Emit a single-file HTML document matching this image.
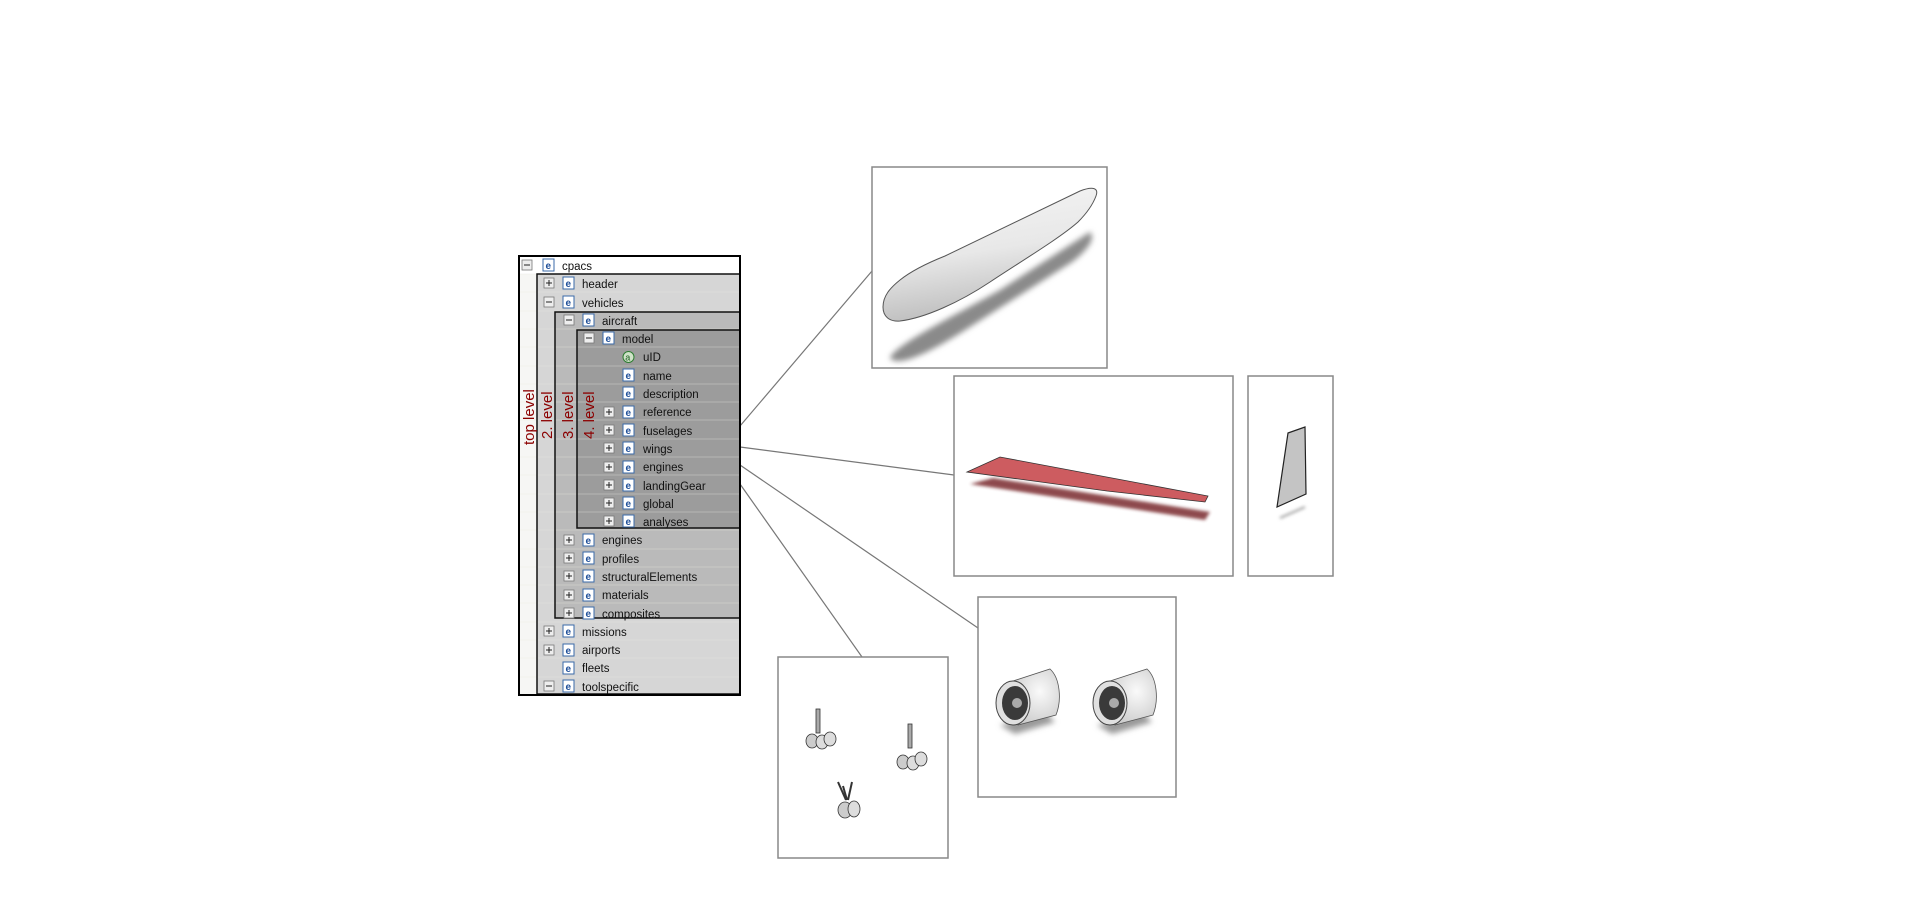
<!DOCTYPE html>
<html><head><meta charset="utf-8"><style>
html,body{margin:0;padding:0;background:#fff;}
svg{display:block;}
text{font-family:"Liberation Sans","DejaVu Sans",sans-serif;}
</style></head><body>
<svg width="1920" height="900" viewBox="0 0 1920 900" xmlns="http://www.w3.org/2000/svg">
<defs>
<linearGradient id="fus" x1="0" y1="0" x2="0.25" y2="1">
<stop offset="0" stop-color="#f6f6f6"/><stop offset="0.55" stop-color="#e8e8e8"/><stop offset="1" stop-color="#bdbdbd"/></linearGradient>
<filter id="blur" x="-20%" y="-50%" width="140%" height="200%"><feGaussianBlur stdDeviation="3"/></filter>
<filter id="blur2" x="-20%" y="-50%" width="140%" height="200%"><feGaussianBlur stdDeviation="1.5"/></filter>
<radialGradient id="eng" cx="0.6" cy="0.4" r="0.7"><stop offset="0" stop-color="#fafafa"/><stop offset="1" stop-color="#c8c8c8"/></radialGradient>
</defs>

<!-- connectors -->
<g stroke="#777" stroke-width="1.2" fill="none">
<line x1="740" y1="426" x2="872" y2="271"/>
<line x1="740" y1="447" x2="954" y2="475"/>
<line x1="740" y1="465" x2="978" y2="628"/>
<line x1="740" y1="484" x2="862" y2="657"/>
</g>

<!-- boxes -->
<g fill="#fff" stroke="#888" stroke-width="1.5">
<rect x="872" y="167" width="235" height="201"/>
<rect x="954" y="376" width="279" height="200"/>
<rect x="1248" y="376" width="85" height="200"/>
<rect x="978" y="597" width="198" height="200"/>
<rect x="778" y="657" width="170" height="201"/>
</g>

<!-- fuselage -->
<path d="M890,358 C895,345 950,318 1000,290 L1090,232 C1096,238 1088,250 1072,262 L962,332 C930,352 898,368 890,358 Z" fill="#8a8a8a" filter="url(#blur)"/>
<path d="M883,307 C883,296 890,288 900,280 C910,272 925,264 945,256 L1080,191 C1093,186 1099,188 1096,196 C1093,204 1088,212 1078,222 C1060,238 1020,262 990,282 C960,302 925,318 900,321 C889,322 883,316 883,307 Z" fill="url(#fus)" stroke="#555" stroke-width="1"/>

<!-- wing -->
<path d="M970,484 L993,478 L1210,512 L1205,520 Z" fill="#7a2a2e" opacity="0.85" filter="url(#blur2)"/>
<path d="M967,472 L1000,457 L1208,496 L1205,502 L1107,491 Z" fill="#cd5c60" stroke="#333" stroke-width="0.8"/>

<!-- fin -->
<line x1="1280" y1="518" x2="1305" y2="507" stroke="#999" stroke-width="2" filter="url(#blur2)"/>
<path d="M1277,507 L1288,433 L1305,427 L1306,494 Z" fill="#c4c4c4" stroke="#222" stroke-width="1.2"/>

<!-- engines -->
<g>
<path d="M1000,725 L1045,712 L1055,722 L1015,734 Z" fill="#999" filter="url(#blur)"/>
<path d="M1010,682 L1050,669 C1060,678 1062,700 1056,715 L1018,725 Z" fill="url(#eng)" stroke="#555" stroke-width="0.8"/>
<ellipse cx="1013" cy="703" rx="17" ry="22" fill="#e0e0e0" stroke="#444" stroke-width="1"/>
<ellipse cx="1015" cy="703" rx="13" ry="17" fill="#3a3a3a"/>
<circle cx="1017" cy="703" r="5" fill="#aaa"/>
<path d="M1097,725 L1142,712 L1152,722 L1112,734 Z" fill="#999" filter="url(#blur)"/>
<path d="M1107,682 L1147,669 C1157,678 1159,700 1153,715 L1115,725 Z" fill="url(#eng)" stroke="#555" stroke-width="0.8"/>
<ellipse cx="1110" cy="703" rx="17" ry="22" fill="#e0e0e0" stroke="#444" stroke-width="1"/>
<ellipse cx="1112" cy="703" rx="13" ry="17" fill="#3a3a3a"/>
<circle cx="1114" cy="703" r="5" fill="#aaa"/>
</g>

<!-- landing gear -->
<g stroke="#333" stroke-width="0.8">
<rect x="816" y="709" width="4" height="24" fill="#aaa"/>
<ellipse cx="812" cy="741" rx="6" ry="7" fill="#ccc"/><ellipse cx="822" cy="742" rx="6" ry="7" fill="#ddd"/><ellipse cx="830" cy="739" rx="6" ry="7" fill="#ddd"/>
<rect x="908" y="724" width="4" height="24" fill="#aaa"/>
<ellipse cx="903" cy="762" rx="6" ry="7" fill="#ccc"/><ellipse cx="913" cy="763" rx="6" ry="7" fill="#ddd"/><ellipse cx="921" cy="759" rx="6" ry="7" fill="#ddd"/>
<line x1="838" y1="782" x2="846" y2="800" stroke-width="2"/><line x1="852" y1="782" x2="848" y2="800" stroke-width="2"/><line x1="843" y1="786" x2="847" y2="800" stroke-width="2"/>
<ellipse cx="845" cy="810" rx="7" ry="8" fill="#ccc"/><ellipse cx="854" cy="809" rx="6" ry="8" fill="#ddd"/>
</g>

<!-- tree -->
<g>
<rect x="519" y="256" width="221" height="439" fill="#f6f6f4"/>
<rect x="519" y="256" width="221" height="18" fill="#fff"/>
<rect x="537" y="274" width="203" height="420" fill="#d6d6d6"/>
<rect x="555" y="312" width="185" height="306" fill="#bababa"/>
<rect x="577" y="330" width="163" height="198" fill="#9c9c9c"/>
<g stroke="#e8e8e0" stroke-width="0.6" opacity="0.7">
<line x1="519" y1="274" x2="740" y2="274"/><line x1="519" y1="292" x2="740" y2="292"/><line x1="519" y1="311" x2="740" y2="311"/><line x1="519" y1="329" x2="740" y2="329"/><line x1="519" y1="347" x2="740" y2="347"/><line x1="519" y1="366" x2="740" y2="366"/><line x1="519" y1="384" x2="740" y2="384"/><line x1="519" y1="402" x2="740" y2="402"/><line x1="519" y1="420" x2="740" y2="420"/><line x1="519" y1="439" x2="740" y2="439"/><line x1="519" y1="457" x2="740" y2="457"/><line x1="519" y1="475" x2="740" y2="475"/><line x1="519" y1="494" x2="740" y2="494"/><line x1="519" y1="512" x2="740" y2="512"/><line x1="519" y1="530" x2="740" y2="530"/><line x1="519" y1="549" x2="740" y2="549"/><line x1="519" y1="567" x2="740" y2="567"/><line x1="519" y1="585" x2="740" y2="585"/><line x1="519" y1="603" x2="740" y2="603"/><line x1="519" y1="622" x2="740" y2="622"/><line x1="519" y1="640" x2="740" y2="640"/><line x1="519" y1="658" x2="740" y2="658"/><line x1="519" y1="677" x2="740" y2="677"/>
</g>
<g fill="none" stroke="#111" stroke-width="1.5">
<rect x="537" y="274" width="203" height="420"/>
<rect x="555" y="312" width="185" height="306"/>
<rect x="577" y="330" width="163" height="198"/>
</g>
<rect x="519" y="256" width="221" height="439" fill="none" stroke="#000" stroke-width="2"/>

<!-- level labels -->
<g fill="#8b0000" font-size="15">
<text transform="translate(534,445) rotate(-90)">top level</text>
<text transform="translate(552,439) rotate(-90)">2. level</text>
<text transform="translate(573,439) rotate(-90)">3. level</text>
<text transform="translate(594,439) rotate(-90)">4. level</text>
</g>

<!-- rows -->
<g font-size="11.5" fill="#111">
<g fill="#eee" stroke="#777" stroke-width="0.8">
<rect x="522" y="260" width="10" height="10"/>
<rect x="544" y="278" width="10" height="10"/>
<rect x="544" y="297" width="10" height="10"/>
<rect x="564" y="315" width="10" height="10"/>
<rect x="584" y="333" width="10" height="10"/>
<rect x="604" y="407" width="10" height="10"/>
<rect x="604" y="425" width="10" height="10"/>
<rect x="604" y="443" width="10" height="10"/>
<rect x="604" y="462" width="10" height="10"/>
<rect x="604" y="480" width="10" height="10"/>
<rect x="604" y="498" width="10" height="10"/>
<rect x="604" y="516" width="10" height="10"/>
<rect x="564" y="535" width="10" height="10"/>
<rect x="564" y="553" width="10" height="10"/>
<rect x="564" y="571" width="10" height="10"/>
<rect x="564" y="590" width="10" height="10"/>
<rect x="564" y="608" width="10" height="10"/>
<rect x="544" y="626" width="10" height="10"/>
<rect x="544" y="645" width="10" height="10"/>
<rect x="544" y="681" width="10" height="10"/>
</g>
<g stroke="#222" stroke-width="1">
<line x1="524" y1="265" x2="530" y2="265"/>
<line x1="546" y1="283" x2="552" y2="283"/><line x1="549" y1="280" x2="549" y2="286"/>
<line x1="546" y1="302" x2="552" y2="302"/>
<line x1="566" y1="320" x2="572" y2="320"/>
<line x1="586" y1="338" x2="592" y2="338"/>
<line x1="606" y1="412" x2="612" y2="412"/><line x1="609" y1="409" x2="609" y2="415"/>
<line x1="606" y1="430" x2="612" y2="430"/><line x1="609" y1="427" x2="609" y2="433"/>
<line x1="606" y1="448" x2="612" y2="448"/><line x1="609" y1="445" x2="609" y2="451"/>
<line x1="606" y1="467" x2="612" y2="467"/><line x1="609" y1="464" x2="609" y2="470"/>
<line x1="606" y1="485" x2="612" y2="485"/><line x1="609" y1="482" x2="609" y2="488"/>
<line x1="606" y1="503" x2="612" y2="503"/><line x1="609" y1="500" x2="609" y2="506"/>
<line x1="606" y1="521" x2="612" y2="521"/><line x1="609" y1="518" x2="609" y2="524"/>
<line x1="566" y1="540" x2="572" y2="540"/><line x1="569" y1="537" x2="569" y2="543"/>
<line x1="566" y1="558" x2="572" y2="558"/><line x1="569" y1="555" x2="569" y2="561"/>
<line x1="566" y1="576" x2="572" y2="576"/><line x1="569" y1="573" x2="569" y2="579"/>
<line x1="566" y1="595" x2="572" y2="595"/><line x1="569" y1="592" x2="569" y2="598"/>
<line x1="566" y1="613" x2="572" y2="613"/><line x1="569" y1="610" x2="569" y2="616"/>
<line x1="546" y1="631" x2="552" y2="631"/><line x1="549" y1="628" x2="549" y2="634"/>
<line x1="546" y1="650" x2="552" y2="650"/><line x1="549" y1="647" x2="549" y2="653"/>
<line x1="546" y1="686" x2="552" y2="686"/>
</g>
<g fill="#fff" stroke="#3a6aa8" stroke-width="1">
<rect x="543" y="259" width="11" height="12"/>
<rect x="563" y="277" width="11" height="12"/>
<rect x="563" y="296" width="11" height="12"/>
<rect x="583" y="314" width="11" height="12"/>
<rect x="603" y="332" width="11" height="12"/>
<rect x="623" y="369" width="11" height="12"/>
<rect x="623" y="387" width="11" height="12"/>
<rect x="623" y="406" width="11" height="12"/>
<rect x="623" y="424" width="11" height="12"/>
<rect x="623" y="442" width="11" height="12"/>
<rect x="623" y="461" width="11" height="12"/>
<rect x="623" y="479" width="11" height="12"/>
<rect x="623" y="497" width="11" height="12"/>
<rect x="623" y="515" width="11" height="12"/>
<rect x="583" y="534" width="11" height="12"/>
<rect x="583" y="552" width="11" height="12"/>
<rect x="583" y="570" width="11" height="12"/>
<rect x="583" y="589" width="11" height="12"/>
<rect x="583" y="607" width="11" height="12"/>
<rect x="563" y="625" width="11" height="12"/>
<rect x="563" y="644" width="11" height="12"/>
<rect x="563" y="662" width="11" height="12"/>
<rect x="563" y="680" width="11" height="12"/>
</g>
<g fill="#1f4f99" font-size="10" font-weight="bold">
<text x="545.5" y="269">e</text><text x="565.5" y="287">e</text><text x="565.5" y="306">e</text><text x="585.5" y="324">e</text><text x="605.5" y="342">e</text>
<text x="625.5" y="379">e</text><text x="625.5" y="397">e</text><text x="625.5" y="416">e</text><text x="625.5" y="434">e</text><text x="625.5" y="452">e</text><text x="625.5" y="471">e</text><text x="625.5" y="489">e</text><text x="625.5" y="507">e</text><text x="625.5" y="525">e</text>
<text x="585.5" y="544">e</text><text x="585.5" y="562">e</text><text x="585.5" y="580">e</text><text x="585.5" y="599">e</text><text x="585.5" y="617">e</text>
<text x="565.5" y="635">e</text><text x="565.5" y="654">e</text><text x="565.5" y="672">e</text><text x="565.5" y="690">e</text>
</g>
<circle cx="628.5" cy="357" r="5.5" fill="#cfe3c8" stroke="#2e7d32" stroke-width="1"/>
<text x="625.3" y="360.5" font-size="9" fill="#1b5e20">a</text>
<text x="562" y="270">cpacs</text>
<text x="582" y="288">header</text>
<text x="582" y="307">vehicles</text>
<text x="602" y="325">aircraft</text>
<text x="622" y="343">model</text>
<text x="643" y="361">uID</text>
<text x="643" y="380">name</text>
<text x="643" y="398">description</text>
<text x="643" y="416">reference</text>
<text x="643" y="435">fuselages</text>
<text x="643" y="453">wings</text>
<text x="643" y="471">engines</text>
<text x="643" y="490">landingGear</text>
<text x="643" y="508">global</text>
<text x="643" y="526">analyses</text>
<text x="602" y="544">engines</text>
<text x="602" y="563">profiles</text>
<text x="602" y="581">structuralElements</text>
<text x="602" y="599">materials</text>
<text x="602" y="618">composites</text>
<text x="582" y="636">missions</text>
<text x="582" y="654">airports</text>
<text x="582" y="672">fleets</text>
<text x="582" y="691">toolspecific</text>
</g>
</g>
</svg>
</body></html>
